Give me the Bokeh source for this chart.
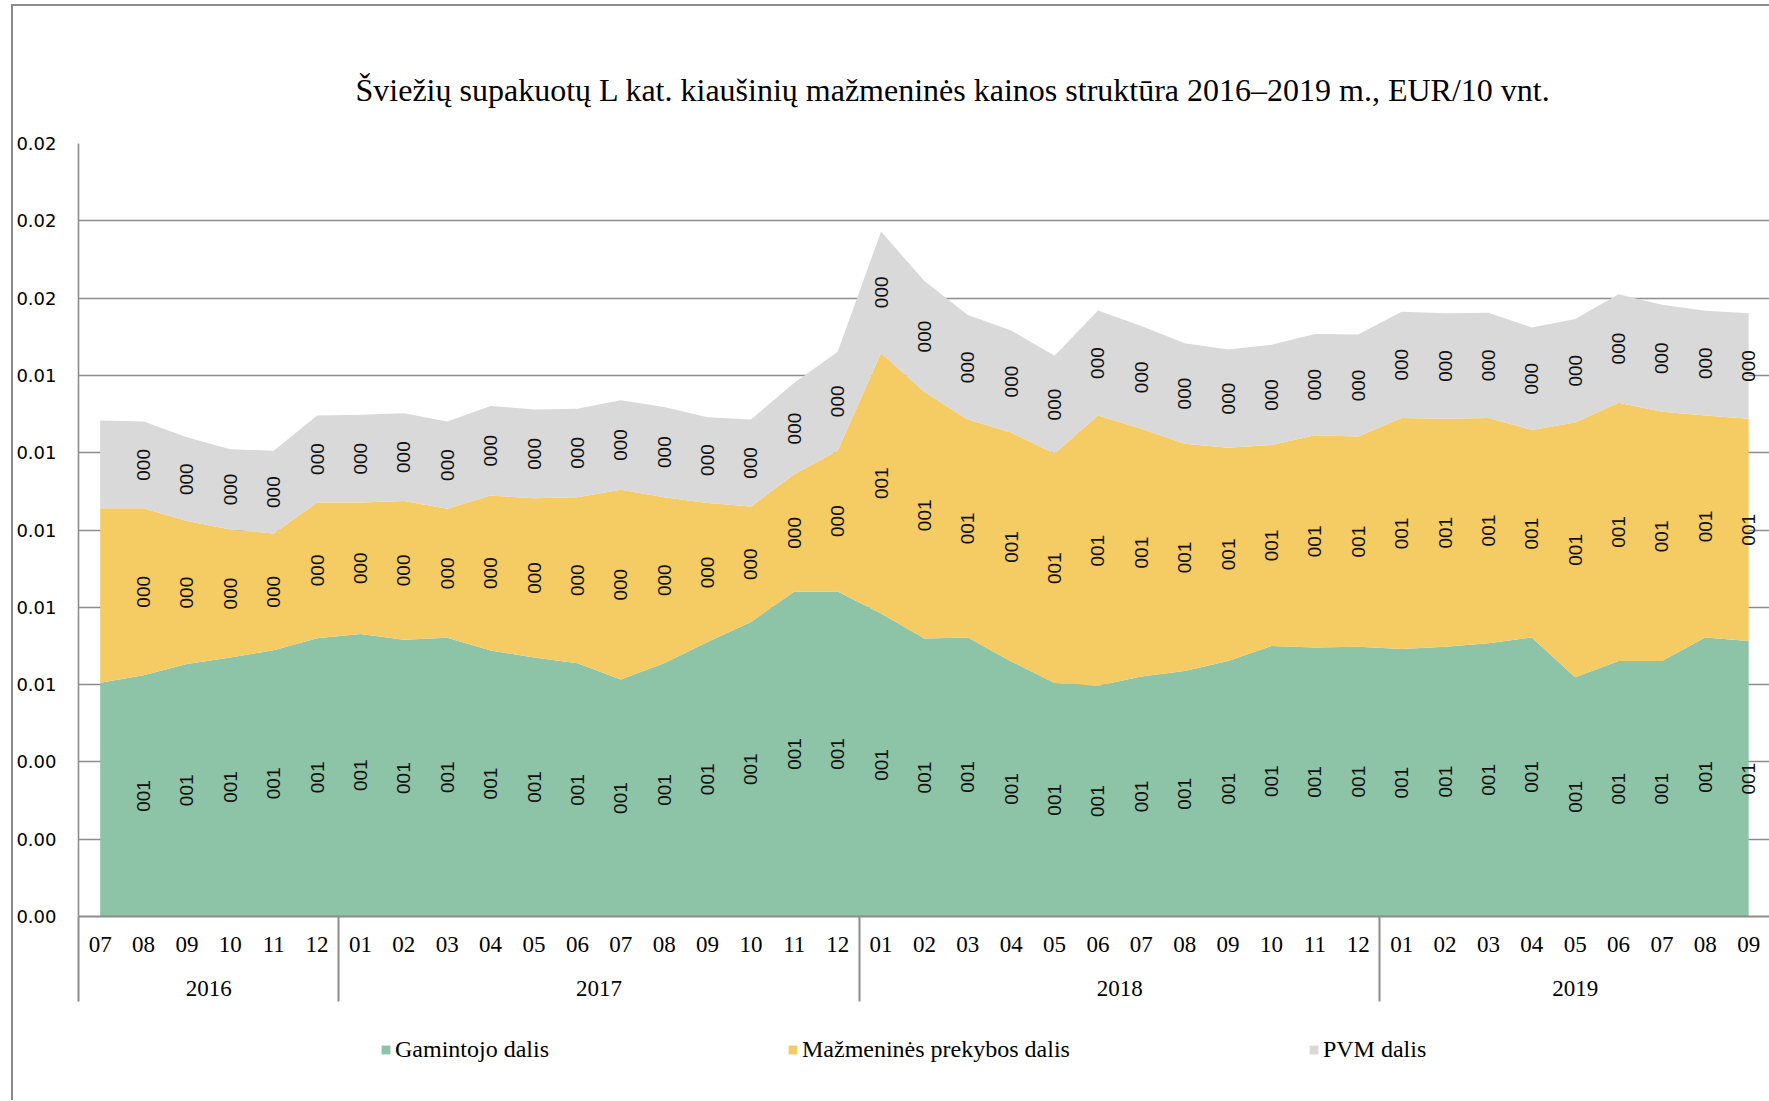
import numpy as np
from bokeh.plotting import figure
from bokeh.layouts import column
from bokeh.models import (ColumnDataSource, Range1d, FixedTicker, LinearAxis,
                          Legend, LegendItem, InlineStyleSheet)
from bokeh.core.properties import value
from bokeh.embed import file_html
from bokeh.resources import INLINE

title_text = "Šviežių supakuotų L kat. kiaušinių mažmeninės kainos struktūra 2016–2019  m., EUR/10 vnt."

months = ["07", "08", "09", "10", "11", "12",
          "01", "02", "03", "04", "05", "06", "07", "08", "09", "10", "11", "12",
          "01", "02", "03", "04", "05", "06", "07", "08", "09", "10", "11", "12",
          "01", "02", "03", "04", "05", "06", "07", "08", "09"]
years = ["2016", "2017", "2018", "2019"]
months_per_year = [6, 12, 12, 9]

series_names = ["Gamintojo dalis", "Mažmeninės prekybos dalis", "PVM dalis"]

gamintojo = [0.00605, 0.00624, 0.00653, 0.00670, 0.00689, 0.00720,
             0.00731, 0.00716, 0.00721, 0.00688, 0.00670, 0.00655, 0.00613, 0.00655,
             0.00710, 0.00762, 0.00841, 0.00841,
             0.00784, 0.00719, 0.00722, 0.00660, 0.00604, 0.00597, 0.00621, 0.00635,
             0.00661, 0.00700, 0.00696, 0.00698,
             0.00692, 0.00698, 0.00707, 0.00722, 0.00619, 0.00661, 0.00661, 0.00722, 0.00713]
mazmenines = [0.00451, 0.00432, 0.00370, 0.00331, 0.00302, 0.00351,
              0.00340, 0.00359, 0.00334, 0.00401, 0.00412, 0.00430, 0.00491, 0.00430,
              0.00360, 0.00299, 0.00303, 0.00364,
              0.00674, 0.00638, 0.00564, 0.00592, 0.00594, 0.00699, 0.00641, 0.00588,
              0.00552, 0.00520, 0.00549, 0.00544,
              0.00598, 0.00590, 0.00583, 0.00537, 0.00659, 0.00668, 0.00645, 0.00574, 0.00575]
pvm = [0.00227, 0.00225, 0.00217, 0.00208, 0.00214, 0.00225,
       0.00227, 0.00227, 0.00226, 0.00232, 0.00230, 0.00229, 0.00232, 0.00233,
       0.00222, 0.00225, 0.00237, 0.00256,
       0.00314, 0.00287, 0.00270, 0.00264, 0.00253, 0.00272, 0.00266, 0.00260,
       0.00254, 0.00259, 0.00262, 0.00264,
       0.00275, 0.00273, 0.00272, 0.00265, 0.00268, 0.00281, 0.00277, 0.00271, 0.00273]

y_ticks = [0.0, 0.002, 0.004, 0.006, 0.008, 0.010, 0.012, 0.014, 0.016, 0.018, 0.020]
y_tick_labels = ["0.00", "0.00", "0.00", "0.01", "0.01", "0.01",
                 "0.01", "0.01", "0.02", "0.02", "0.02"]

GREEN = "#8DC3A7"
YELLOW = "#F5CB64"
GRAY = "#D9D9D9"
COLORS = [GREEN, YELLOW, GRAY]
LINE = "#8C8C8C"
SERIF = "Liberation Serif"

x = list(range(len(months)))
g = np.array(gamintojo)
m = np.array(mazmenines)
v = np.array(pvm)

src = ColumnDataSource(dict(x=x, g=gamintojo, m=mazmenines, v=pvm))

MAIN_H = 1016
p = figure(width=1769, height=MAIN_H, output_backend="svg", toolbar_location=None,
           x_range=Range1d(-0.5, 38.48), y_range=Range1d(0, 0.020),
           min_border_left=78, min_border_right=0, min_border_top=143,
           min_border_bottom=MAIN_H - 916)
p.outline_line_color = None
p.background_fill_color = "white"
p.border_fill_color = "white"
p.stylesheets = [InlineStyleSheet(css=(
    ":host::before{content:'';position:absolute;left:11px;top:4px;width:2px;"
    "height:calc(100% - 4px);background:#8C8C8C;z-index:10;pointer-events:none;}"
    ":host::after{content:'';position:absolute;left:11px;top:4px;height:2px;"
    "width:1800px;background:#8C8C8C;z-index:10;pointer-events:none;}"))]

# title
p.title.text = title_text
p.title.align = "left"
p.title.offset = 277
p.title.standoff = 71
p.title.text_font = SERIF
p.title.text_font_size = "32px"
p.title.text_font_style = "normal"
p.title.text_color = "black"

rends = p.varea_stack(["g", "m", "v"], x="x", color=COLORS, source=src)

# data labels in the middle of each band (the first month carries none)
idx = x[1:]
lab_x = idx * 3
lab_y = (list((g / 2)[1:]) + list((g + m / 2)[1:]) + list((g + m + v / 2)[1:]))
lab_t = [f"{int(round(val * 100)):03d}"
         for val in list(g[1:]) + list(m[1:]) + list(v[1:])]
lsrc = ColumnDataSource(dict(x=lab_x, y=lab_y, t=lab_t))
p.text(x="x", y="y", text="t", source=lsrc, angle=np.pi / 2,
       text_align="center", text_baseline="middle",
       text_font=value("Liberation Sans"), text_font_size="19px", text_color="#111111")

# grid
p.xgrid.visible = False
p.ygrid.ticker = FixedTicker(ticks=y_ticks)
p.ygrid.grid_line_color = LINE
p.ygrid.grid_line_width = 1.6

# y axis
yax = p.yaxis[0]
yax.ticker = FixedTicker(ticks=y_ticks)
yax.major_label_overrides = dict(zip(y_ticks, y_tick_labels))
yax.major_tick_line_color = None
yax.major_tick_out = 0
yax.major_tick_in = 0
yax.minor_tick_line_color = None
yax.axis_line_color = LINE
yax.axis_line_width = 1.6
yax.major_label_standoff = 22
yax.major_label_text_font = "DejaVu Sans"
yax.major_label_text_font_size = "18px"
yax.major_label_text_color = "black"

# month axis with year separators as long minor ticks
bounds = [-0.5]
acc = -0.5
for n in months_per_year[:-1]:
    acc += n
    bounds.append(acc)
year_pos = []
start = 0
for n in months_per_year:
    year_pos.append(start + (n - 1) / 2)
    start += n

SEP_LEN = 85
xax = p.xaxis[0]
xax.ticker = FixedTicker(ticks=x, minor_ticks=bounds)
xax.major_label_overrides = dict(zip(x, months))
xax.major_tick_line_color = None
xax.major_tick_out = 0
xax.major_tick_in = 0
xax.minor_tick_line_color = LINE
xax.minor_tick_line_width = 2
xax.minor_tick_in = 0
xax.minor_tick_out = SEP_LEN
xax.axis_line_color = LINE
xax.axis_line_width = 2
xax.major_label_standoff = 20 - SEP_LEN
xax.major_label_text_font = SERIF
xax.major_label_text_font_size = "23px"
xax.major_label_text_color = "black"

yrax = LinearAxis(ticker=FixedTicker(ticks=year_pos),
                  major_label_overrides=dict(zip(year_pos, years)),
                  axis_line_color=None, major_tick_line_color=None,
                  major_tick_out=0, major_tick_in=0,
                  minor_tick_line_color=None, major_label_standoff=26,
                  major_label_text_font=SERIF, major_label_text_font_size="23px",
                  major_label_text_color="black")
p.add_layout(yrax, "below")

# legend strip below the chart
LEG_H = 1100 - MAIN_H
pl = figure(width=1769, height=LEG_H, output_backend="svg", toolbar_location=None,
            x_range=Range1d(0, 1), y_range=Range1d(0, 1),
            x_axis_location=None, y_axis_location=None,
            min_border_left=0, min_border_right=0, min_border_top=0, min_border_bottom=0)
pl.outline_line_color = None
pl.xgrid.visible = False
pl.ygrid.visible = False
pl.background_fill_color = "white"
pl.border_fill_color = "white"
pl.stylesheets = [InlineStyleSheet(css=(
    ":host::before{content:'';position:absolute;left:11px;top:0px;width:2px;"
    "height:100%;background:#8C8C8C;z-index:10;pointer-events:none;}"))]

# legend swatches: areas placed outside the visible range of the strip
dummy = [pl.varea(x=[0, 1], y1=[5, 5], y2=[6, 6], fill_color=c) for c in COLORS]
legend = Legend(items=[LegendItem(label=series_names[i], renderers=[dummy[i]])
                       for i in range(3)],
                orientation="horizontal", location=(302, LEG_H - 1049 + MAIN_H - 14),
                spacing=238, padding=0, margin=0, border_line_color=None,
                background_fill_alpha=0, glyph_width=11, glyph_height=11,
                label_standoff=4, label_text_font=SERIF,
                label_text_font_size="24px", label_text_color="black")
pl.add_layout(legend)

layout = column(p, pl, spacing=0)
open("out.html", "w").write(file_html(layout, INLINE))
